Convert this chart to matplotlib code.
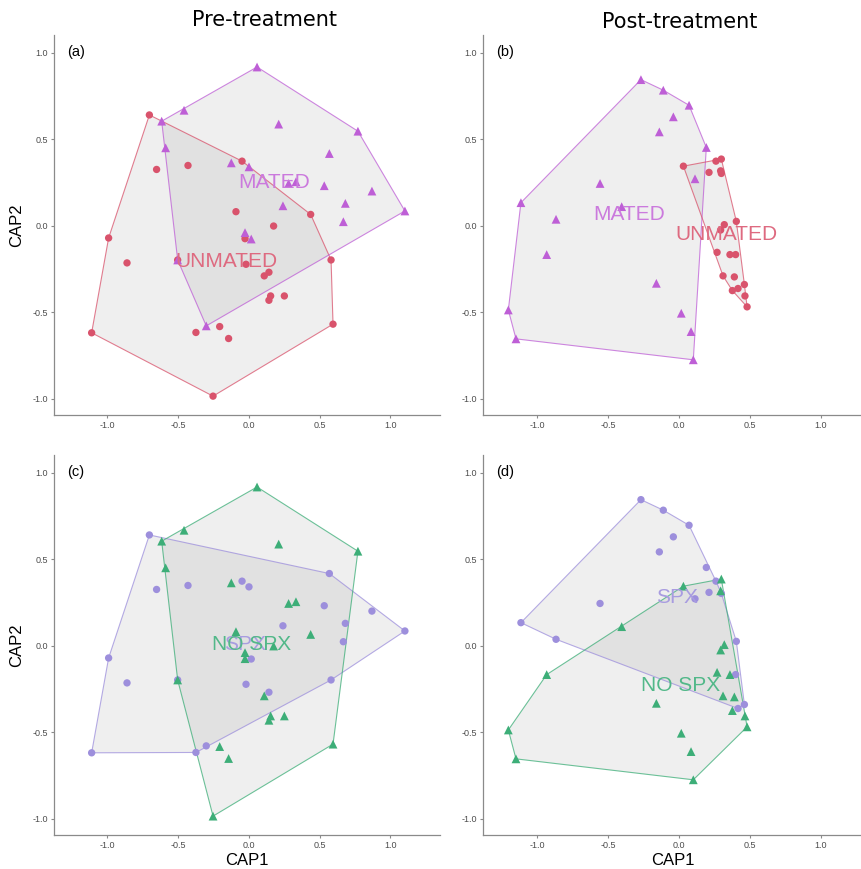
import numpy as np
import matplotlib
matplotlib.use("Agg")
import matplotlib.pyplot as plt

# pre-treatment CAP scores (same fish in panels a and c)
pre_x = [0.057, -0.459, -0.617, 0.21, 0.77, -0.589, 0.568, -0.125, 0.0, 0.28, 0.332,
         0.532, 0.869, 0.681, 0.24, 1.102, 0.667, -0.028, 0.016, -0.504, -0.302,
         -0.704, -0.653, -0.431, -0.049, -0.092, 0.174, 0.436, -0.028, -0.992, -0.862,
         -0.021, 0.108, 0.141, 0.58, 0.153, 0.141, 0.25, -0.207, -0.375, -0.144,
         0.594, -1.112, -0.254, -0.504]
pre_y = [0.917, 0.667, 0.604, 0.587, 0.546, 0.45, 0.417, 0.363, 0.34, 0.244, 0.254,
         0.231, 0.2, 0.129, 0.115, 0.085, 0.023, -0.04, -0.077, -0.198, -0.579,
         0.64, 0.325, 0.348, 0.373, 0.081, -0.002, 0.065, -0.075, -0.071, -0.215,
         -0.223, -0.29, -0.269, -0.198, -0.406, -0.431, -0.406, -0.583, -0.617, -0.652,
         -0.569, -0.619, -0.985, -0.198]
pre_mated = [1] * 21 + [0] * 24
pre_spx = [0, 0, 0, 0, 0, 0, 1, 0, 1, 0, 0, 1, 1, 1, 1, 1, 1, 0, 1, 1, 1,
           1, 1, 1, 1, 0, 0, 0, 0, 1, 1, 1, 0, 1, 1, 0, 0, 0, 0, 1, 0, 0, 1, 0, 0]

# post-treatment CAP scores (panels b and d)
post_x = [-0.269, -0.111, 0.071, -0.04, -0.139, 0.193, 0.113, -0.558, -1.117, -0.405,
          -0.869, -0.935, -0.16, -1.206, 0.016, 0.085, -1.152, 0.101,
          0.031, 0.261, 0.299, 0.212, 0.294, 0.299, 0.405, 0.32, 0.294, 0.269, 0.36,
          0.4, 0.311, 0.391, 0.462, 0.377, 0.417, 0.466, 0.481]
post_y = [0.844, 0.783, 0.696, 0.629, 0.542, 0.452, 0.271, 0.244, 0.133, 0.11,
          0.037, -0.167, -0.333, -0.487, -0.506, -0.612, -0.654, -0.775,
          0.344, 0.373, 0.385, 0.308, 0.317, 0.302, 0.025, 0.006, -0.025, -0.154, -0.167,
          -0.167, -0.29, -0.296, -0.34, -0.375, -0.363, -0.406, -0.469]
post_mated = [1] * 18 + [0] * 19
post_spx = [1, 1, 1, 1, 1, 1, 1, 1, 1, 0, 1, 0, 0, 0, 0, 0, 0, 0,
            0, 1, 0, 1, 0, 1, 1, 0, 0, 0, 0, 1, 0, 0, 1, 0, 1, 0, 0]

pre_x, pre_y, post_x, post_y = map(np.array, (pre_x, pre_y, post_x, post_y))
pre_mated, pre_spx = np.array(pre_mated, bool), np.array(pre_spx, bool)
post_mated, post_spx = np.array(post_mated, bool), np.array(post_spx, bool)

C_MATED, C_UNMATED = "#BE5FD6", "#D9536C"
C_SPX, C_NOSPX = "#9D8FDC", "#3DAE78"


def hull(x, y):
    pts = sorted(set(zip(x, y)))
    def cross(o, a, b):
        return (a[0] - o[0]) * (b[1] - o[1]) - (a[1] - o[1]) * (b[0] - o[0])
    lower, upper = [], []
    for p in pts:
        while len(lower) >= 2 and cross(lower[-2], lower[-1], p) <= 0:
            lower.pop()
        lower.append(p)
    for p in reversed(pts):
        while len(upper) >= 2 and cross(upper[-2], upper[-1], p) <= 0:
            upper.pop()
        upper.append(p)
    return np.array(lower[:-1] + upper[:-1])


def group(ax, x, y, marker, color, label, lcolor):
    h = hull(x, y)
    ax.fill(h[:, 0], h[:, 1], facecolor="grey", alpha=0.12, edgecolor="none", zorder=1)
    ax.fill(h[:, 0], h[:, 1], facecolor="none", edgecolor=color, lw=0.8, alpha=0.75,
            zorder=2)
    ax.scatter(x, y, marker=marker, s=28 if marker == "o" else 40, color=color,
               edgecolors="none", zorder=3)
    ax.text(x.mean(), y.mean(), label, color=lcolor, fontsize=15, ha="center",
            va="center", family="Liberation Sans", zorder=4)


W, H = 862, 869
fig = plt.figure(figsize=(W / 100, H / 100), dpi=100)


def make_ax(left, right, top, bottom, xlim):
    ax = fig.add_axes([left / W, 1 - bottom / H, (right - left) / W, (bottom - top) / H])
    ax.set_xlim(*xlim)
    ax.set_ylim(-1.094, 1.102)
    for s in ("top", "right"):
        ax.spines[s].set_visible(False)
    for s in ("left", "bottom"):
        ax.spines[s].set_color("#8a8a8a")
        ax.spines[s].set_linewidth(0.9)
    ax.set_xticks([-1.0, -0.5, 0.0, 0.5, 1.0])
    ax.set_yticks([-1.0, -0.5, 0.0, 0.5, 1.0])
    ax.xaxis.set_major_formatter(matplotlib.ticker.FormatStrFormatter("%.1f"))
    ax.yaxis.set_major_formatter(matplotlib.ticker.FormatStrFormatter("%.1f"))
    ax.tick_params(length=2.5, width=0.8, color="#8a8a8a", labelsize=6.5,
                   labelcolor="#4d4d4d", pad=2)
    for t in ax.get_xticklabels() + ax.get_yticklabels():
        t.set_family("Liberation Sans")
    return ax


ax_a = make_ax(54, 440, 35, 415, (-1.378, 1.35))
ax_b = make_ax(483, 862, 35, 415, (-1.385, 1.293))
ax_c = make_ax(54, 440, 455, 835, (-1.378, 1.35))
ax_d = make_ax(483, 862, 455, 835, (-1.385, 1.293))

# (a) pre-treatment, mating status
group(ax_a, pre_x[~pre_mated], pre_y[~pre_mated], "o", C_UNMATED, "UNMATED", "#DE6A80")
group(ax_a, pre_x[pre_mated], pre_y[pre_mated], "^", C_MATED, "MATED", "#CB7ADD")
# (b) post-treatment, mating status
group(ax_b, post_x[post_mated], post_y[post_mated], "^", C_MATED, "MATED", "#CB7ADD")
group(ax_b, post_x[~post_mated], post_y[~post_mated], "o", C_UNMATED, "UNMATED", "#DE6A80")
# (c) pre-treatment, SPX
group(ax_c, pre_x[pre_spx], pre_y[pre_spx], "o", C_SPX, "SPX", "#A89CE0")
group(ax_c, pre_x[~pre_spx], pre_y[~pre_spx], "^", C_NOSPX, "NO SPX", "#52B889")
# (d) post-treatment, SPX
group(ax_d, post_x[post_spx], post_y[post_spx], "o", C_SPX, "SPX", "#A89CE0")
group(ax_d, post_x[~post_spx], post_y[~post_spx], "^", C_NOSPX, "NO SPX", "#52B889")

for ax, lab in zip((ax_a, ax_b, ax_c, ax_d), ("(a)", "(b)", "(c)", "(d)")):
    ax.text(0.034, 0.956, lab, transform=ax.transAxes, fontsize=10.5,
            family="Liberation Sans", va="center", ha="left")

for ax in (ax_a, ax_c):
    ax.set_ylabel("CAP2", fontsize=12, family="Liberation Sans", labelpad=6)
for ax in (ax_c, ax_d):
    ax.set_xlabel("CAP1", fontsize=12, family="Liberation Sans", labelpad=2)

fig.text(265 / W, 1 - 20 / H, "Pre-treatment", fontsize=15, ha="center", va="center")
fig.text(680 / W, 1 - 22 / H, "Post-treatment", fontsize=15, ha="center", va="center")

fig.savefig("out.png", dpi=100)
